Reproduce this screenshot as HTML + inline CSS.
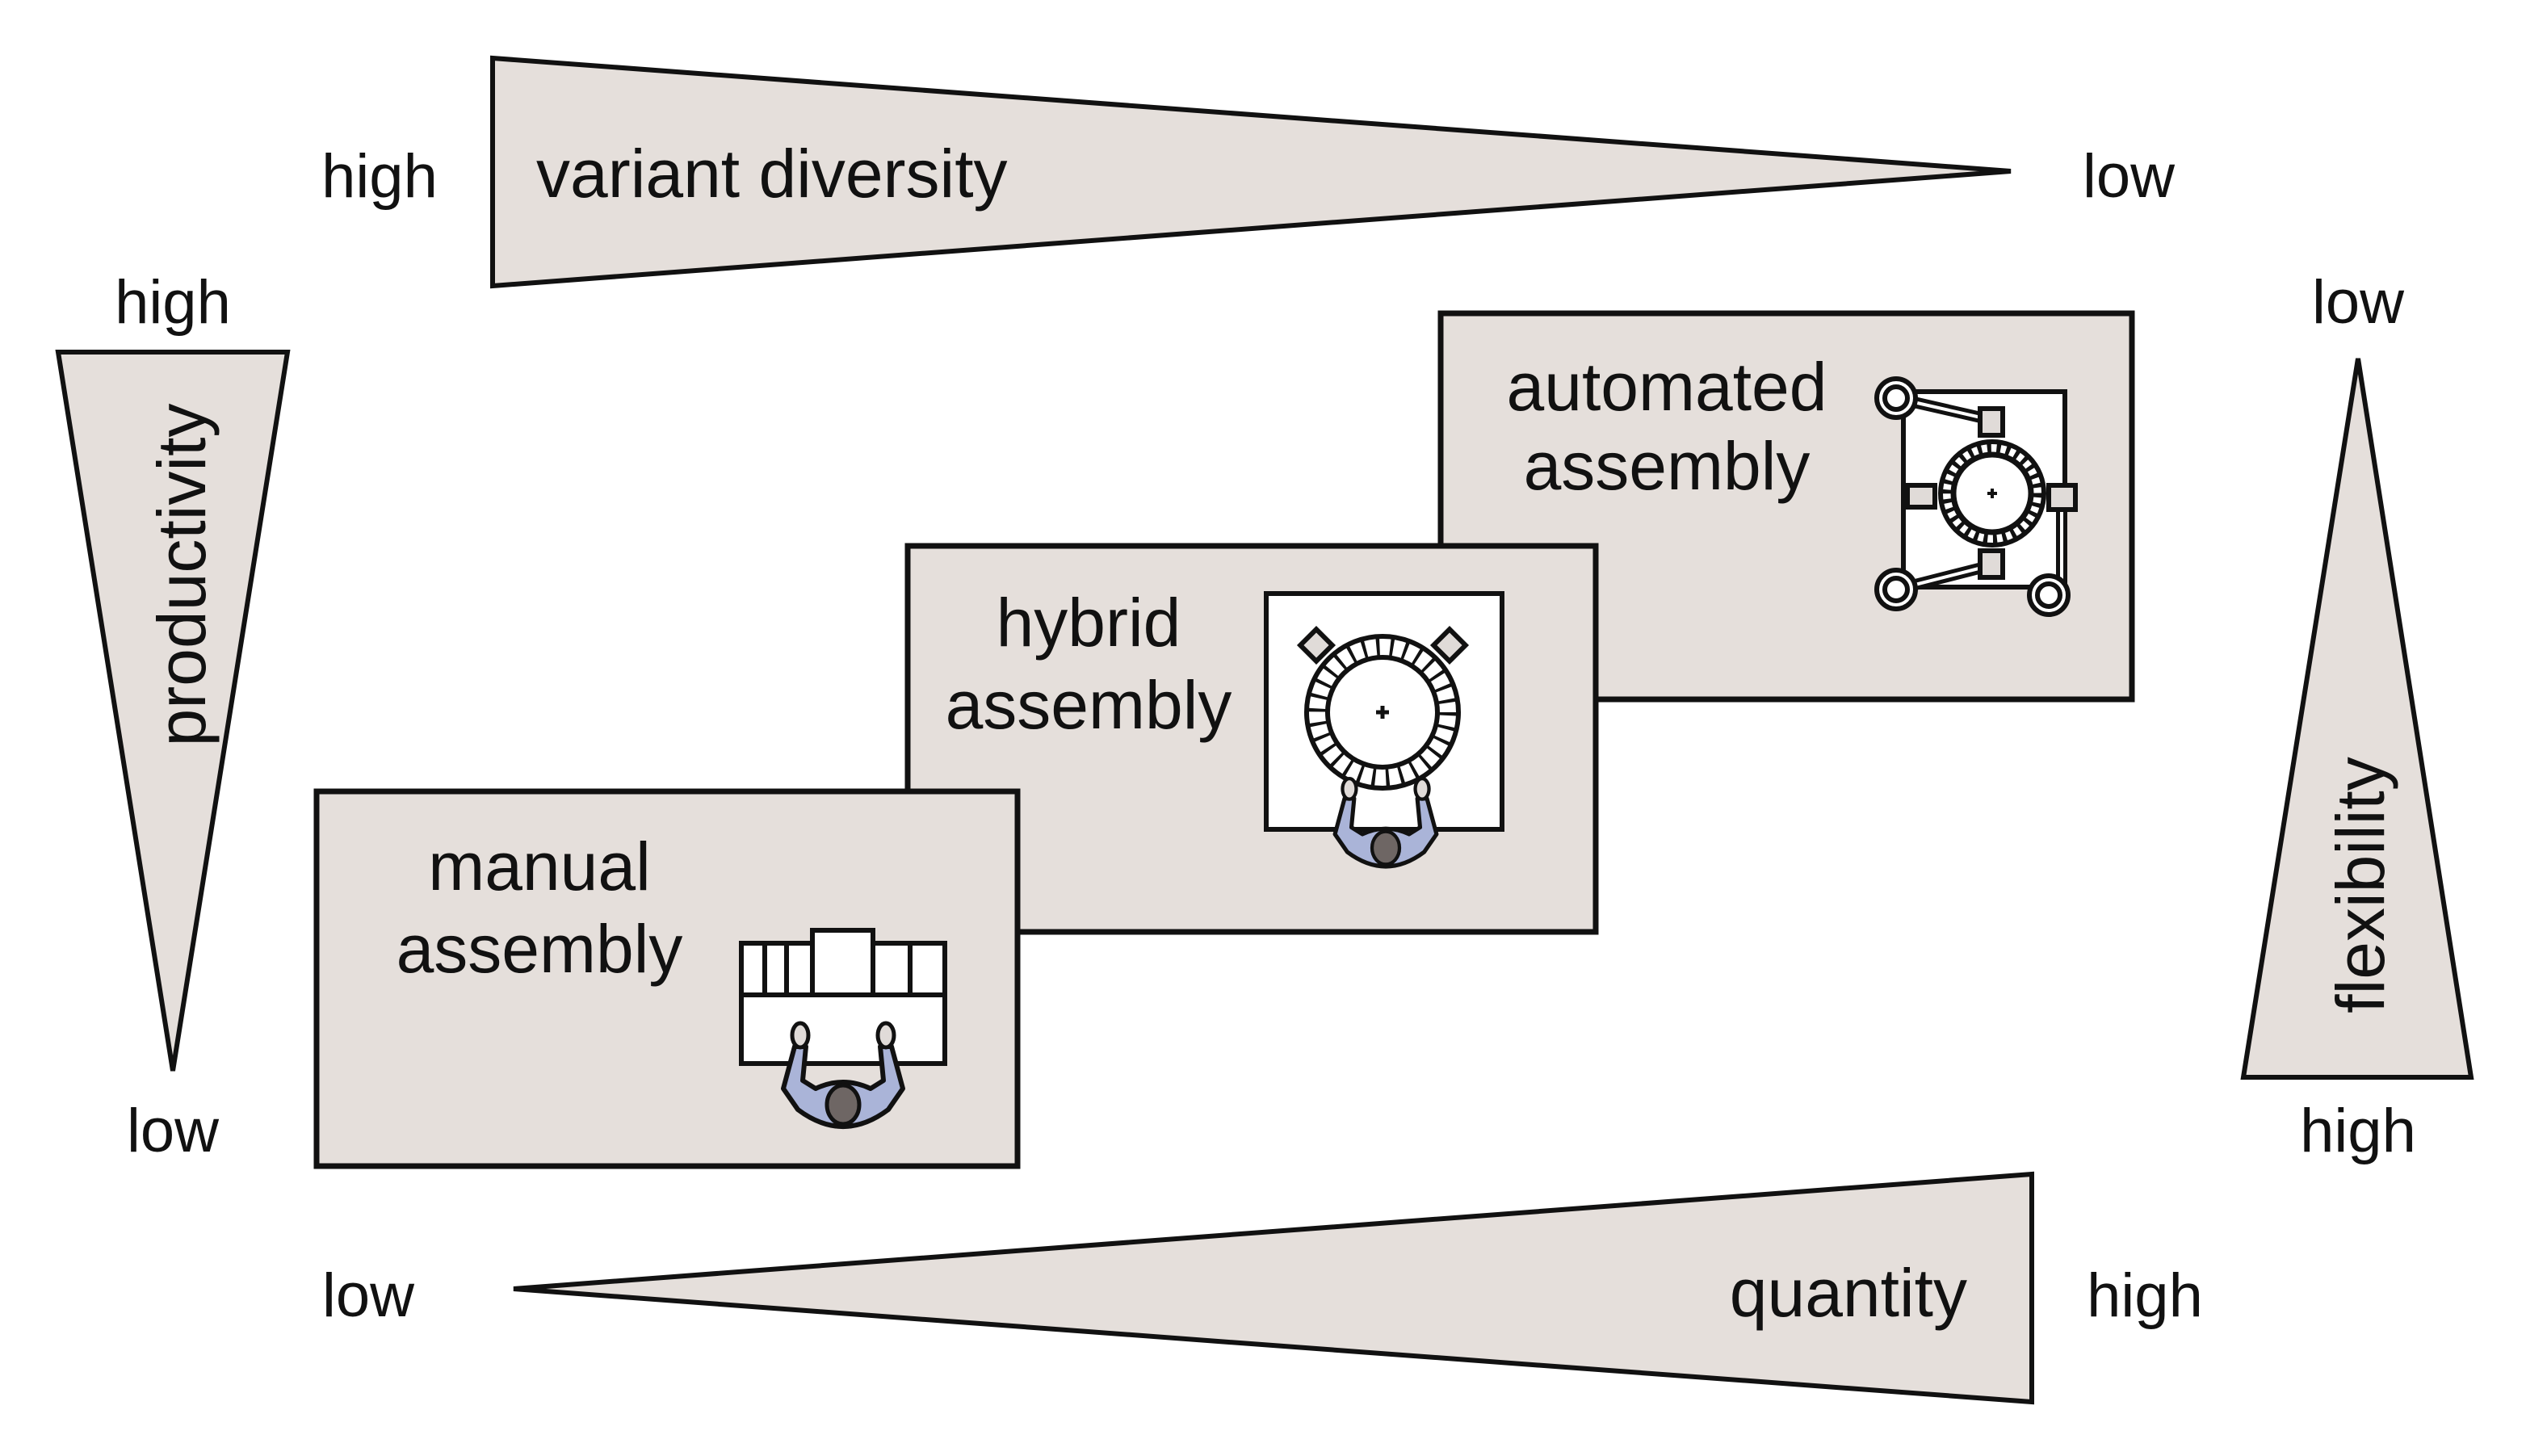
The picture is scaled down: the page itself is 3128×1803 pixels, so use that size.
<!DOCTYPE html>
<html><head><meta charset="utf-8"><style>html,body{margin:0;padding:0;background:#fff}svg{display:block}</style></head>
<body>
<svg width="3128" height="1803" viewBox="0 0 3128 1803" xmlns="http://www.w3.org/2000/svg" font-family="Liberation Sans, Arial, sans-serif" fill="#111">
<defs>
<g id="person">
<path d="M-60,-72 L-74,-20 L-56,6 Q0,48 56,6 L74,-20 L60,-72 L46,-72 L50,-30 L34,-20 Q0,-36 -34,-20 L-50,-30 L-46,-72 Z" fill="#aab4d8" stroke="#111" stroke-width="6" stroke-linejoin="round"/>
<ellipse cx="-53" cy="-86" rx="10" ry="15" fill="#e0dbd8" stroke="#111" stroke-width="5"/>
<ellipse cx="53" cy="-86" rx="10" ry="15" fill="#e0dbd8" stroke="#111" stroke-width="5"/>
<ellipse cx="0" cy="0" rx="20" ry="24" fill="#6e6664" stroke="#111" stroke-width="5"/>
</g>
</defs>
<g stroke="#111" stroke-width="6" fill="#e5dfdb" stroke-linejoin="miter">
<polygon points="610,72 610,354 2490,212"/>
<polygon points="72,436 356,436 214,1326"/>
<polygon points="2920,444 2778,1334 3060,1334"/>
<polygon points="636,1596 2516,1454 2516,1736"/>
<rect x="1784" y="388" width="856" height="478" stroke-width="7"/>
<rect x="1124" y="676" width="852" height="478" stroke-width="7"/>
<rect x="392" y="980" width="868" height="464" stroke-width="7"/>
</g>
<g font-size="76" text-anchor="middle">
<text x="470" y="244">high</text>
<text x="2636" y="244">low</text>
<text x="214" y="400">high</text>
<text x="214" y="1426">low</text>
<text x="2920" y="400">low</text>
<text x="2920" y="1426">high</text>
<text x="456" y="1630">low</text>
<text x="2656" y="1630">high</text>
</g>
<g font-size="84">
<text x="664" y="244">variant diversity</text>
<text x="2436" y="1630" text-anchor="end">quantity</text>
<text transform="translate(254,712) rotate(-90)" text-anchor="middle">productivity</text>
<text transform="translate(2952,1096) rotate(-90)" text-anchor="middle">flexibility</text>
<g text-anchor="middle">
<text x="2064" y="508">automated</text>
<text x="2064" y="606">assembly</text>
<text x="1348" y="800">hybrid</text>
<text x="1348" y="902">assembly</text>
<text x="668" y="1102">manual</text>
<text x="668" y="1204">assembly</text>
</g>
</g>
<!-- automated icon -->
<g stroke="#111" stroke-width="6">
<rect x="2357" y="485" width="200" height="242" fill="#fff"/>
<g fill="none" stroke-width="14"><path d="M2348,493 L2466,520 M2348,730 L2466,700 M2553,616 L2553,737"/></g>
<g fill="none" stroke="#fff" stroke-width="4"><path d="M2348,493 L2466,520 M2348,730 L2466,700 M2553,616 L2553,737"/></g>
<circle cx="2348" cy="493" r="24" fill="#fff"/><circle cx="2348" cy="493" r="14" fill="#fff"/>
<circle cx="2348" cy="730" r="24" fill="#fff"/><circle cx="2348" cy="730" r="14" fill="#fff"/>
<circle cx="2537" cy="737" r="24" fill="#fff"/><circle cx="2537" cy="737" r="14" fill="#fff"/>
<rect x="2452" y="506" width="28" height="33" fill="#e0dbd8"/>
<rect x="2452" y="682" width="28" height="33" fill="#e0dbd8"/>
<rect x="2362" y="601" width="34" height="27" fill="#e0dbd8"/>
<rect x="2537" y="601" width="33" height="30" fill="#e0dbd8"/>
<circle cx="2467" cy="611" r="64" fill="#fff"/>
<circle cx="2467" cy="611" r="48" fill="#fff" stroke-width="7"/>
<circle cx="2467" cy="611" r="56" fill="none" stroke-width="16" stroke-dasharray="5 6.7"/>
<path d="M2461,611 h12 M2467,605 v12" stroke-width="4"/>
</g>
<!-- hybrid icon -->
<g stroke="#111" stroke-width="6">
<rect x="1568" y="735" width="292" height="292" fill="#fff"/>
<rect x="1616" y="785" width="28" height="28" transform="rotate(45 1630 799)" fill="#e0dbd8"/>
<rect x="1781" y="785" width="28" height="28" transform="rotate(45 1795 799)" fill="#e0dbd8"/>
<circle cx="1712" cy="882" r="94" fill="#fff"/>
<circle cx="1712" cy="882" r="68" fill="#fff"/>
<circle cx="1712" cy="882" r="81" fill="none" stroke-width="26" stroke="#111" stroke-dasharray="4 13"/>
<path d="M1704,882 h16 M1712,874 v16" stroke-width="5"/>
</g>
<use href="#person" transform="translate(1716,1050) scale(0.85)"/>
<!-- manual icon -->
<g stroke="#111" stroke-width="6" fill="#fff">
<rect x="918" y="1168" width="252" height="149"/>
<line x1="918" y1="1232" x2="1170" y2="1232"/>
<line x1="947" y1="1168" x2="947" y2="1232"/>
<line x1="974" y1="1168" x2="974" y2="1232"/>
<line x1="1127" y1="1168" x2="1127" y2="1232"/>
<rect x="1006" y="1152" width="75" height="80"/>
</g>
<use href="#person" transform="translate(1044,1368)"/>
</svg>
</body></html>
